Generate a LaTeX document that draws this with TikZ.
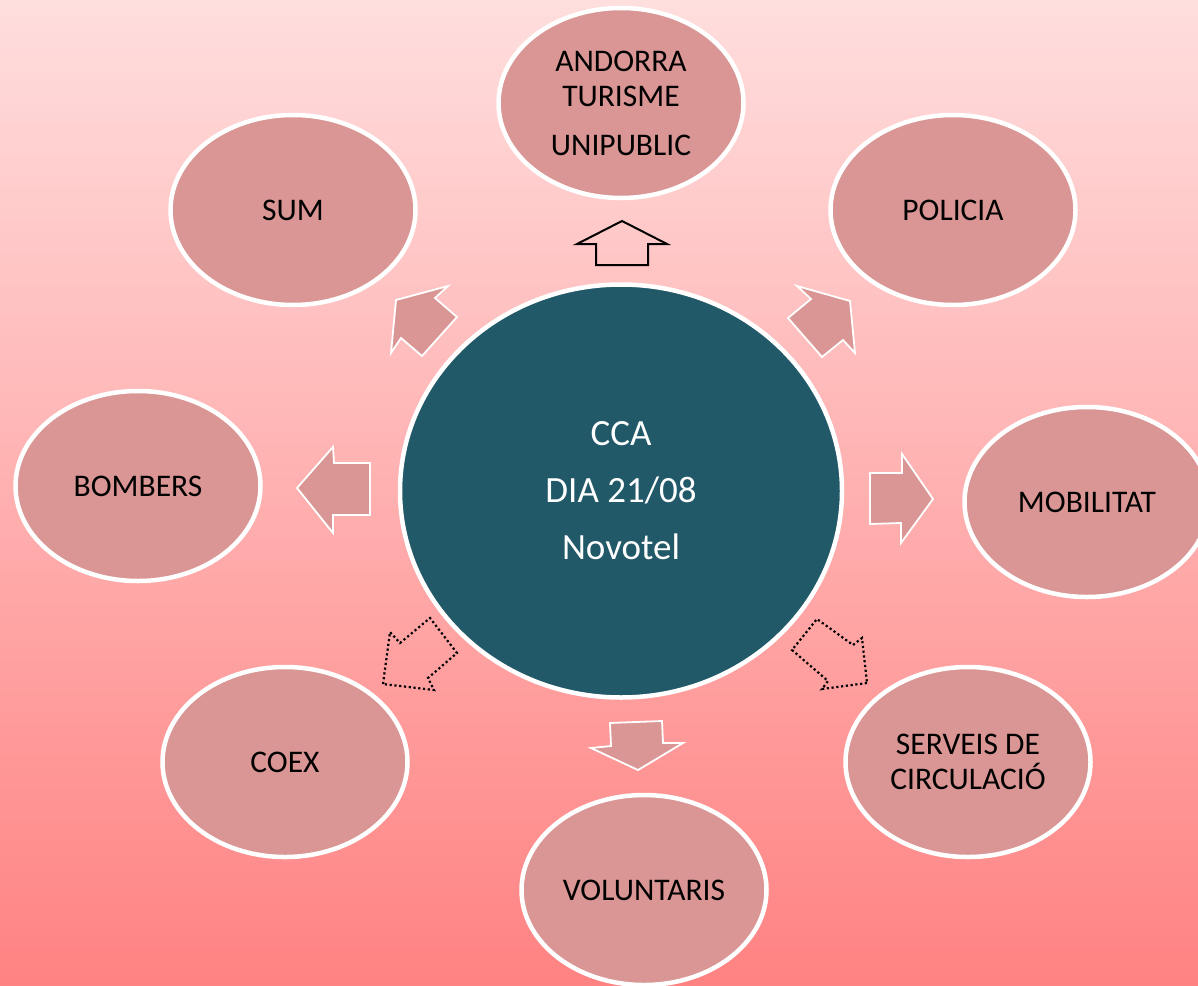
\documentclass[tikz,border=0pt]{standalone}
\usepackage{fontspec}
\setmainfont{Carlito}
\usetikzlibrary{shapes.geometric}
\definecolor{bgtop}{RGB}{255,222,222}
\definecolor{bgbot}{RGB}{255,130,130}
\definecolor{rose}{RGB}{217,150,148}
\definecolor{hubteal}{RGB}{33,89,104}
\tikzset{
  unit/.style={ellipse, draw=white, line width=4.5pt, fill=rose, minimum width=245pt, minimum height=190pt,
    inner sep=0pt, align=center, text=black, font=\fontsize{31.5}{35}\selectfont},
  hub/.style={ellipse, draw=white, line width=4.5pt, fill=hubteal, minimum width=442pt, minimum height=413pt,
    inner sep=0pt, align=center, text=white, font=\fontsize{37}{57}\selectfont},
  blockarrow/.style={fill=rose, draw=white, line width=1.8pt, line join=miter},
  outlinearrow/.style={draw=black, line width=2pt, line join=miter},
  dotarrow/.style={draw=black, line width=2.2pt, dash pattern=on 2.2pt off 2.6pt}
}
\begin{document}
\begin{tikzpicture}[x=1pt, y=-1pt]
\useasboundingbox (0,0) rectangle (1198,985);
\clip (0,0) rectangle (1198,985);
\shade[top color=bgtop, bottom color=bgbot] (0,0) rectangle (1198,985);

\node[hub] (cca) at (621,491) {CCA\\DIA 21/08\\Novotel};

\node[unit] (andorra) at (621,103) {ANDORRA\\TURISME\\[14pt]UNIPUBLIC};
\node[unit] (sum) at (293,210) {SUM};
\node[unit] (policia) at (953,210) {POLICIA};
\node[unit] (bombers) at (138,486) {BOMBERS};
\node[unit] (mobilitat) at (1087,502) {MOBILITAT};
\node[unit] (coex) at (285,762) {COEX};
\node[unit] (serveis) at (968,762) {SERVEIS DE\\CIRCULACIÓ};
\node[unit] (voluntaris) at (644,890) {VOLUNTARIS};

% up arrow to ANDORRA (outline only)
\draw[outlinearrow] (622,221) -- (667,244) -- (648,244) -- (648,265) -- (596,265) -- (596,244) -- (577,244) -- cycle;
% arrow to SUM
\path[blockarrow] (396,300) -- (448,286) -- (435,298) -- (457,317) -- (422,356) -- (401,338) -- (391,353) -- cycle;
% arrow to POLICIA
\path[blockarrow] (850,301) -- (855,353) -- (843,340) -- (822,357) -- (788,318) -- (811,299) -- (797,286) -- cycle;
% arrow to BOMBERS
\path[blockarrow] (297,488) -- (333,447) -- (334,463) -- (370,463) -- (370,515) -- (333,515) -- (333,533) -- cycle;
% arrow to MOBILITAT
\path[blockarrow] (933,499) -- (901,543) -- (901,523) -- (870,524) -- (870,473) -- (902,473) -- (902,454) -- cycle;
% dotted arrow to COEX
\draw[dotarrow] (383,684) -- (390,632) -- (400,643) -- (430,618) -- (457,653) -- (428,678) -- (434,690) -- cycle;
% dotted arrow to SERVEIS
\draw[dotarrow] (867,683) -- (822,689) -- (828,681) -- (792,650) -- (817,619) -- (853,645) -- (862,638) -- cycle;
% arrow to VOLUNTARIS
\path[blockarrow] (638,770) -- (591,748) -- (611,746) -- (610,723) -- (662,721) -- (663,743) -- (683,743) -- cycle;
\end{tikzpicture}
\end{document}
